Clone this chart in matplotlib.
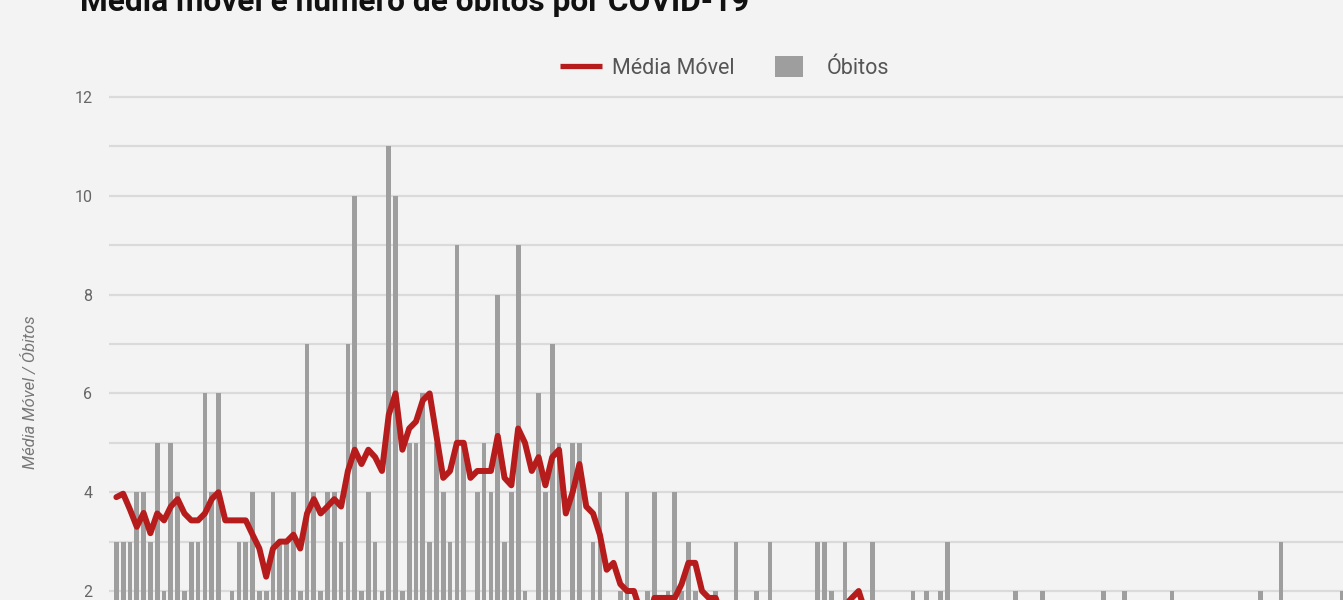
import matplotlib.pyplot as plt
from matplotlib.lines import Line2D
from matplotlib.patches import Rectangle


OUTPUT_PNG = "out.png"

TITLE = "Média móvel e número de óbitos por COVID-19"
Y_LABEL = "Média Móvel / Óbitos"
LEGEND_LINE = "Média Móvel"
LEGEND_BAR = "Óbitos"

# Daily deaths, one bar per day.
OBITOS = [
    3, 3, 3, 4, 4, 3, 5, 2, 5, 4,
    2, 3, 3, 6, 4, 6, 0, 2, 3, 3,
    4, 2, 2, 4, 3, 3, 4, 2, 7, 4,
    2, 4, 4, 3, 7, 10, 2, 4, 3, 2,
    11, 10, 2, 5, 5, 6, 3, 5, 4, 3,
    9, 5, 1, 4, 5, 4, 8, 3, 4, 9,
    2, 1, 6, 4, 7, 5, 0, 5, 5, 0,
    3, 4, 0, 1, 2, 4, 0, 0, 2, 4,
    1, 2, 4, 2, 3, 2, 0, 0, 2, 1,
    0, 3, 1, 0, 2, 1, 3, 0, 1, 1,
    0, 0, 0, 3, 3, 2, 1, 3, 1, 1,
    0, 3, 1, 0, 1, 0, 1, 2, 0, 2,
    1, 2, 3, 1, 0, 1, 0, 1, 0, 0,
    1, 0, 2, 1, 0, 0, 2, 1, 0, 0,
    1, 0, 0, 1, 0, 2, 0, 1, 2, 0,
    0, 1, 0, 0, 1, 2, 0, 0, 1, 0,
    0, 0, 1, 0, 0, 1, 0, 0, 2, 0,
    1, 3, 0, 0, 1, 0, 0, 1, 0, 0,
    2,
]

# 7-day moving average line, one value per day.
MEDIA_MOVEL = [
    3.90, 3.97, 3.65, 3.30, 3.58, 3.17, 3.57, 3.43, 3.71, 3.86,
    3.57, 3.43, 3.43, 3.57, 3.86, 4.00, 3.43, 3.43, 3.43, 3.43,
    3.14, 2.86, 2.29, 2.86, 3.00, 3.00, 3.14, 2.86, 3.57, 3.86,
    3.57, 3.71, 3.86, 3.71, 4.43, 4.86, 4.57, 4.86, 4.71, 4.43,
    5.57, 6.00, 4.86, 5.29, 5.43, 5.86, 6.00, 5.14, 4.29, 4.43,
    5.00, 5.00, 4.29, 4.43, 4.43, 4.43, 5.14, 4.29, 4.14, 5.29,
    5.00, 4.43, 4.71, 4.14, 4.71, 4.86, 3.57, 4.00, 4.57, 3.71,
    3.57, 3.14, 2.43, 2.57, 2.14, 2.00, 2.00, 1.57, 1.29, 1.86,
    1.86, 1.86, 1.86, 2.14, 2.57, 2.57, 2.00, 1.86, 1.86, 1.43,
    1.14, 1.14, 1.00, 1.00, 1.29, 1.14, 1.43, 1.43, 1.14, 1.14,
    1.14, 0.86, 0.71, 0.71, 1.14, 1.29, 1.29, 1.71, 1.86, 2.00,
    1.57, 1.57, 1.43, 1.29, 1.00, 0.86, 0.86, 1.14, 0.71, 0.86,
    1.00, 1.14, 1.57, 1.57, 1.29, 1.43, 1.14, 1.14, 0.86, 0.43,
    0.43, 0.43, 0.57, 0.71, 0.57, 0.57, 0.86, 0.86, 0.86, 0.57,
    0.57, 0.57, 0.57, 0.43, 0.29, 0.57, 0.57, 0.57, 0.86, 0.86,
    0.71, 0.86, 0.57, 0.57, 0.57, 0.57, 0.57, 0.57, 0.57, 0.57,
    0.57, 0.43, 0.29, 0.29, 0.29, 0.29, 0.29, 0.29, 0.57, 0.43,
    0.57, 1.00, 0.86, 0.86, 1.00, 0.71, 0.71, 0.71, 0.29, 0.29,
    0.57,
]

Y_TICKS = [2, 4, 6, 8, 10, 12]
GRID_LEVELS = [2, 3, 4, 5, 6, 7, 8, 9, 10, 11, 12]

BG = "#f3f3f3"
GRID = "#dadada"
BAR_COLOR = "#9e9e9e"
LINE_COLOR = "#b71c1c"
TEXT_GRAY = "#666666"

W_PX, H_PX = 1343, 600


def fx(px: float) -> float:
    return px / W_PX


def fy(py: float) -> float:
    return 1 - py / H_PX


def draw_legend(fig) -> None:
    fig.add_artist(Line2D([fx(560), fx(602)], [fy(66), fy(66)],
                          color=LINE_COLOR, lw=3.8, solid_capstyle="butt"))
    fig.text(fx(612), fy(74), LEGEND_LINE, ha="left", va="baseline",
             fontsize=15.5, color="#555555")
    fig.add_artist(Rectangle((fx(775), fy(77)), fx(28), 21 / H_PX,
                             transform=fig.transFigure, color=BAR_COLOR, lw=0))
    fig.text(fx(827), fy(74), LEGEND_BAR, ha="left", va="baseline",
             fontsize=15.5, color="#555555")


def main() -> None:
    plt.rcParams["font.family"] = ["Roboto", "DejaVu Sans"]

    fig = plt.figure(figsize=(W_PX / 100, H_PX / 100), dpi=100, facecolor=BG)
    ax = fig.add_axes([fx(109), 0, 1 - fx(109), 1])
    ax.set_facecolor(BG)

    x = list(range(len(OBITOS)))
    ax.bar(x, OBITOS, width=0.69, color=BAR_COLOR, zorder=2)
    ax.plot(range(len(MEDIA_MOVEL)), MEDIA_MOVEL, color=LINE_COLOR, lw=4.3,
            solid_joinstyle="round", solid_capstyle="round", zorder=3)

    for level in GRID_LEVELS:
        ax.axhline(level, color=GRID, lw=1.6, zorder=1)

    ax.set_xlim(-1.08, 180.12)
    ax.set_ylim(1.818, 13.964)
    ax.set_yticks(Y_TICKS)
    ax.set_yticklabels([str(t) for t in Y_TICKS])
    ax.tick_params(axis="y", length=0, pad=12, labelsize=11.5, labelcolor=TEXT_GRAY)
    ax.set_xticks([])
    for spine in ax.spines.values():
        spine.set_visible(False)

    fig.text(fx(30), fy(392), Y_LABEL, rotation=90, ha="center", va="center",
             fontsize=12, style="italic", color="#777777")
    fig.text(fx(80), fy(11), TITLE, ha="left", va="baseline",
             fontsize=22.8, fontweight="bold", color="#111111")

    draw_legend(fig)

    fig.savefig(OUTPUT_PNG, dpi=100, facecolor=BG)
    plt.close(fig)


if __name__ == "__main__":
    main()
